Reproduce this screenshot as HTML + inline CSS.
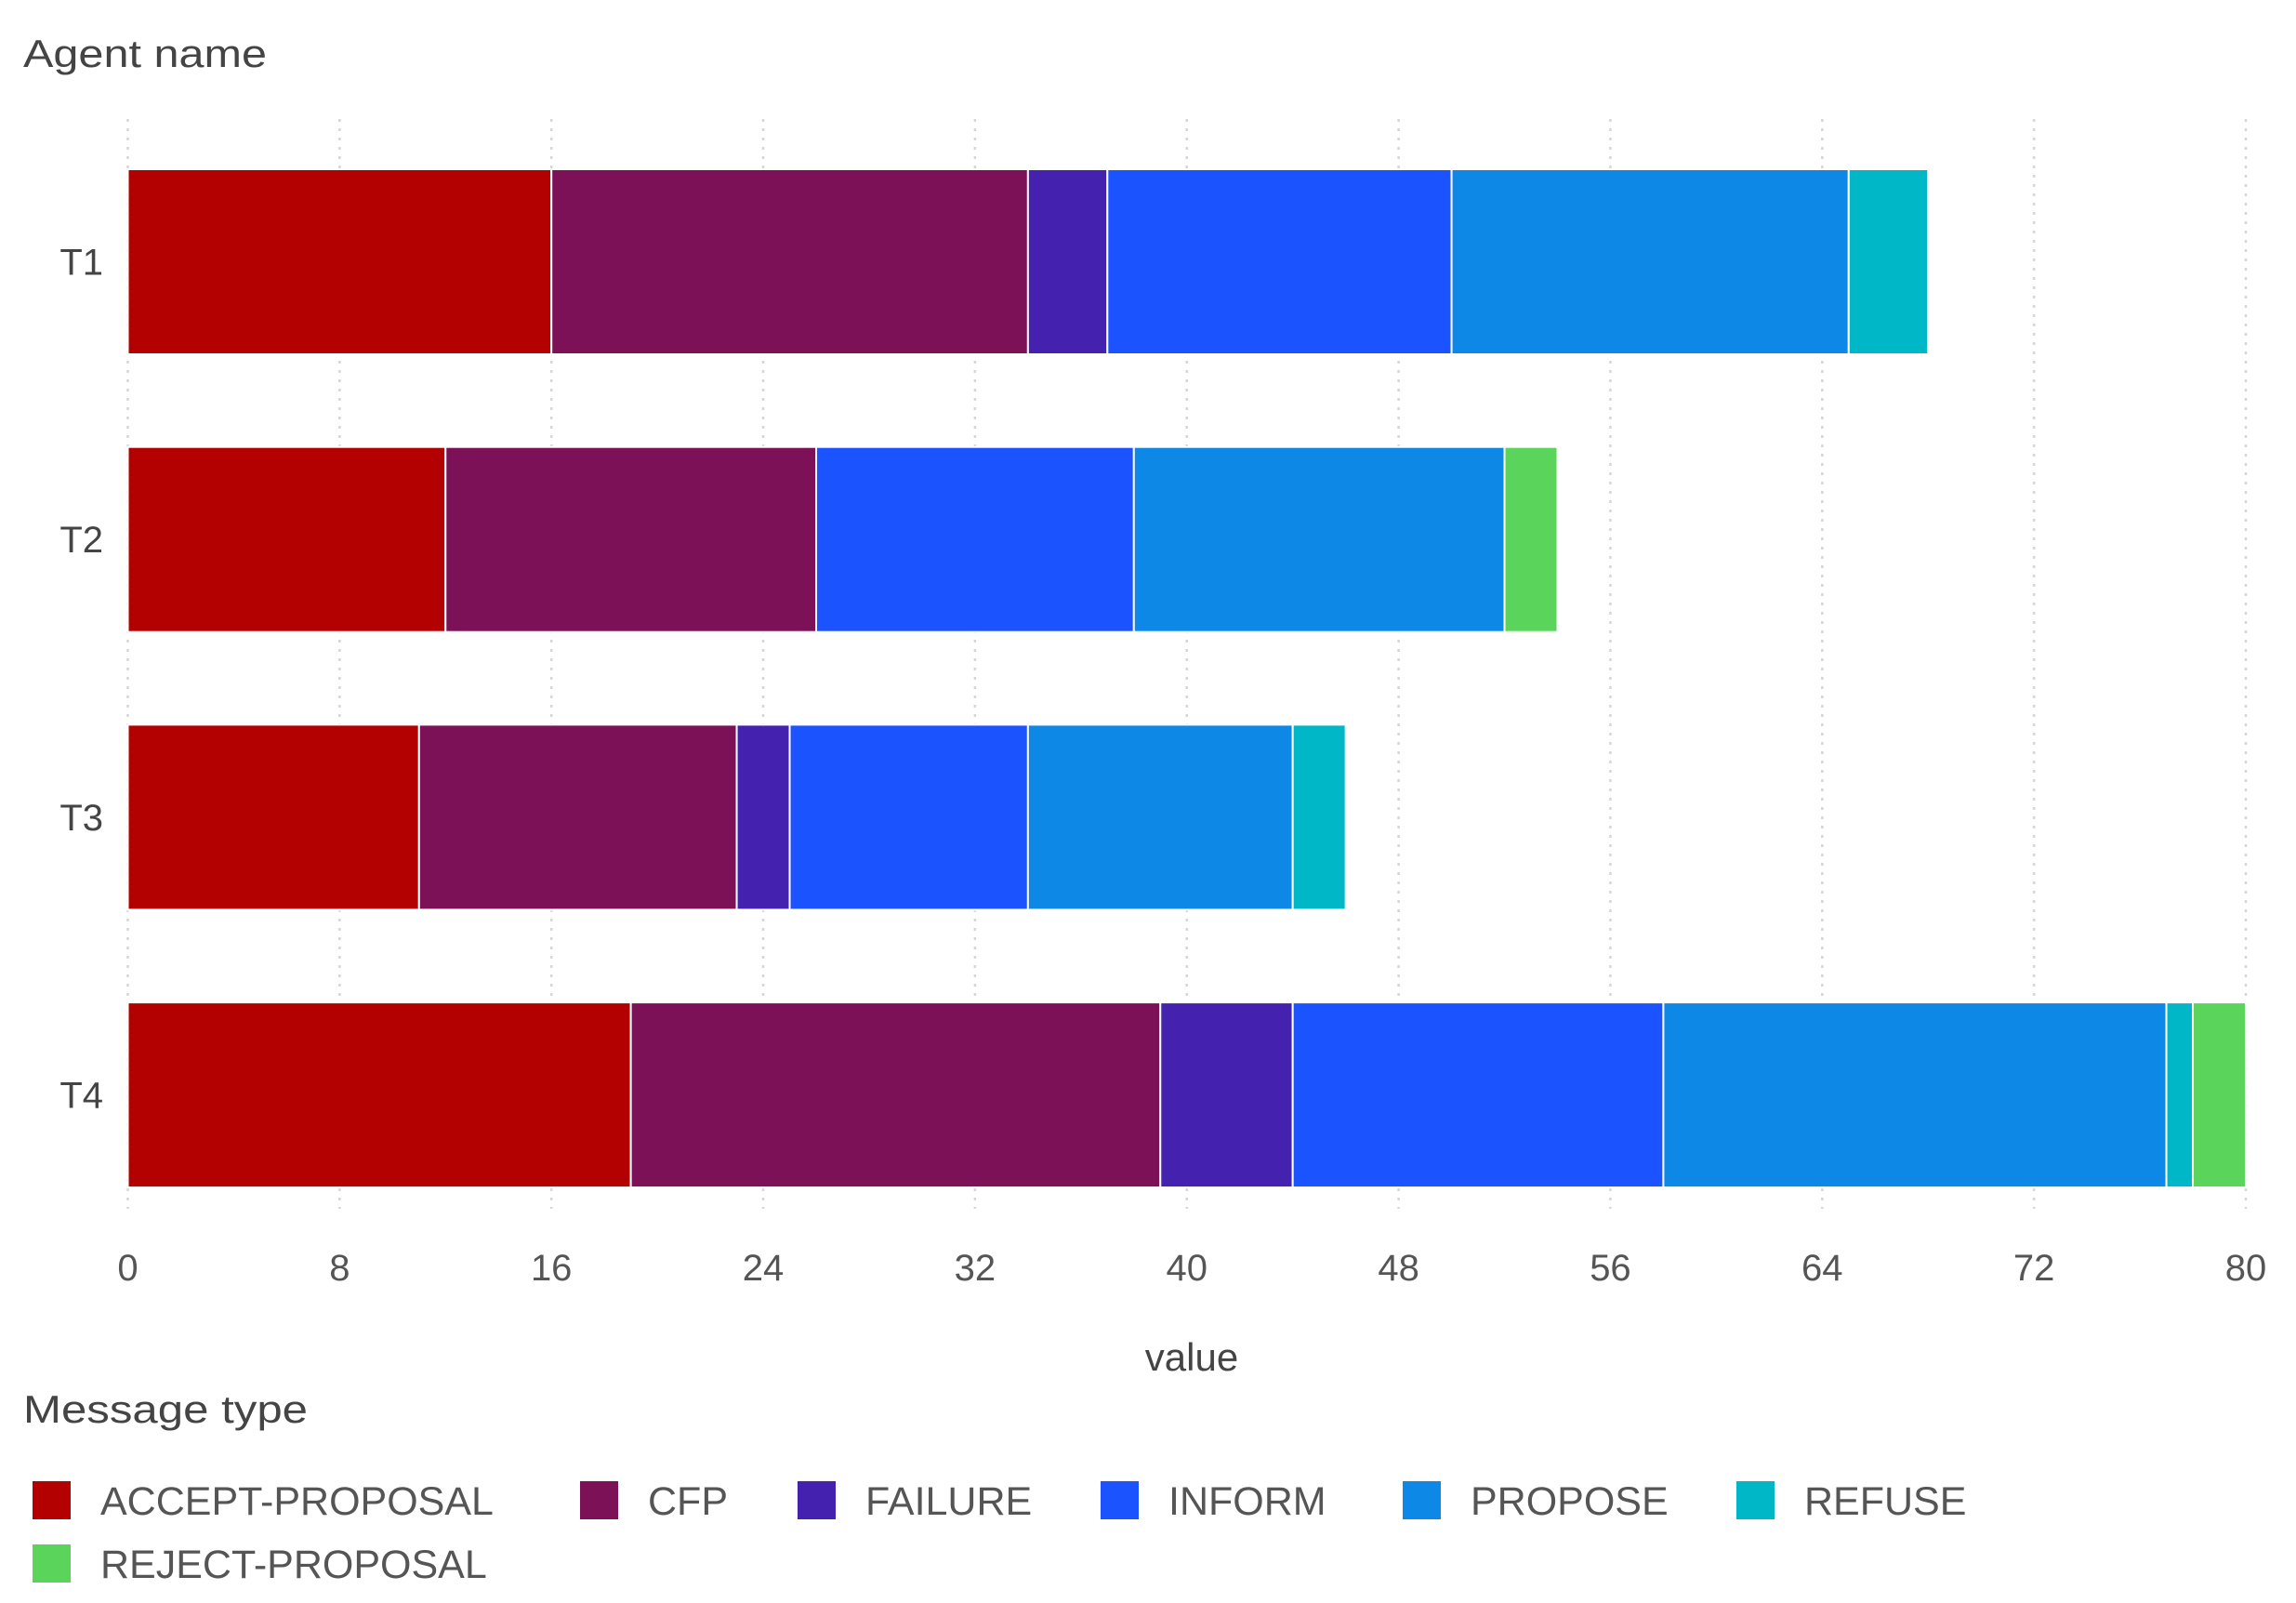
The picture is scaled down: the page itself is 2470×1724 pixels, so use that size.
<!DOCTYPE html>
<html><head><meta charset="utf-8"><style>
html,body{margin:0;padding:0;background:#fff;}
svg{display:block;font-family:"Liberation Sans",sans-serif;}
</style></head><body>
<svg id="chart" width="2470" height="1724" viewBox="0 0 2470 1724" xmlns="http://www.w3.org/2000/svg">
<text x="25" y="72" font-size="42" fill="#444" textLength="262" lengthAdjust="spacingAndGlyphs">Agent name</text>
<text x="1282" y="1474" font-size="42" fill="#444" text-anchor="middle">value</text>
<text x="25" y="1530" font-size="42" fill="#444" textLength="306" lengthAdjust="spacingAndGlyphs">Message type</text>
<g id="grid"></g><g id="bars"></g><g id="ticks"></g><g id="cats"></g><g id="legend"></g>
</svg>
<script>
const categories = ["T1","T2","T3","T4"];
const seriesNames = ["ACCEPT-PROPOSAL","CFP","FAILURE","INFORM","PROPOSE","REFUSE","REJECT-PROPOSAL"];
const acceptProposal = [16,12,11,19];
const cfp = [18,14,12,20];
const failure = [3,0,2,5];
const inform = [13,12,9,14];
const propose = [15,14,10,19];
const refuse = [3,0,2,1];
const rejectProposal = [0,2,0,2];
const tickValues = [0,8,16,24,32,40,48,56,64,72,80];
const colors = ["#b30000","#7c1158","#4421af","#1a53ff","#0d88e6","#00b7c7","#5ad45a"];
const series = [acceptProposal,cfp,failure,inform,propose,refuse,rejectProposal];

const NS="http://www.w3.org/2000/svg";
const x0=137.5, x1=2416, xmax=80;
const xs=v=>x0+(x1-x0)*v/xmax;
const bandTop=182, bandStep=298.7, barH=199;
const ys=i=>bandTop+i*bandStep;
function mk(tag,attrs,parent){const e=document.createElementNS(NS,tag);for(const k in attrs)e.setAttribute(k,attrs[k]);document.getElementById(parent).appendChild(e);return e;}

tickValues.forEach(t=>{
  const g=mk('line',{x1:xs(t),x2:xs(t),y1:128,y2:1300,stroke:'#d6d6d6','stroke-width':2.5,'stroke-dasharray':'3,7'},'grid');
  
  
  const tl=mk('text',{x:xs(t),y:1377,'font-size':40,fill:'#555','text-anchor':'middle'},'ticks');
  tl.textContent=t;
  
  
});

categories.forEach((c,i)=>{
  const cl=mk('text',{x:111,y:ys(i)+barH/2+14,'font-size':40,fill:'#444','text-anchor':'end'},'cats');
  cl.textContent=c;
  
  
  let acc=0;
  series.forEach((s,k)=>{
    const v=s[i]; if(!v) return;
    const r=mk('rect',{x:xs(acc),y:ys(i),width:xs(acc+v)-xs(acc),height:barH,fill:colors[k],stroke:'#fff','stroke-width':2},'bars');
    
    
    acc+=v;
  });
});

const legX=[35,624,858,1184,1509,1868,35];
const legY=[1593,1593,1593,1593,1593,1593,1661];
seriesNames.forEach((n,k)=>{
  const sw=mk('rect',{x:legX[k],y:legY[k],width:41,height:41,fill:colors[k]},'legend');
  
  
  const t=mk('text',{x:legX[k]+73,y:legY[k]+36,'font-size':43,fill:'#555'},'legend');
  t.textContent=n;
  
  
});
</script>
</body></html>
